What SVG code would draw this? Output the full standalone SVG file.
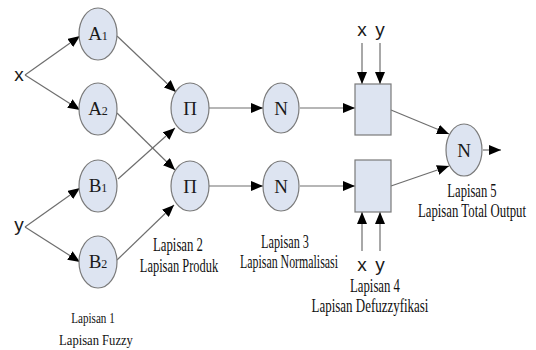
<svg xmlns="http://www.w3.org/2000/svg" width="536" height="350" viewBox="0 0 536 350">
  <style>
    .node { fill: #dde4f1; stroke: #7a7a7a; stroke-width: 1.2; }
    .edge { stroke: #6e6e6e; stroke-width: 1.2; fill: none; }
    .lbl { font-family: "Liberation Serif", "Times New Roman", serif; fill: #1a1a1a; text-anchor: middle; }
    .var { font-family: "Liberation Sans", Arial, sans-serif; font-size: 19px; fill: #1a1a1a; text-anchor: middle; }
    .cap { font-family: "Liberation Serif", "Times New Roman", serif; font-size: 18px; fill: #111; text-anchor: middle; }
    .cap1 { font-family: "Liberation Serif", "Times New Roman", serif; font-size: 15px; fill: #111; text-anchor: middle; }
  </style>
  <defs>
    <marker id="arrow" markerUnits="userSpaceOnUse" markerWidth="12" markerHeight="10" refX="12" refY="5" orient="auto">
      <path d="M0,0 L12,5 L0,10 z" fill="#000"/>
    </marker>
  </defs>
  <rect width="536" height="350" fill="#fff"/>

  <!-- connectors -->
  <g id="connectors" class="edge" marker-end="url(#arrow)">
    <line x1="25" y1="75" x2="80" y2="36"/>
    <line x1="25" y1="75" x2="80" y2="110"/>
    <line x1="25" y1="227" x2="80" y2="188"/>
    <line x1="25" y1="227" x2="80" y2="262"/>
    <line x1="117" y1="36" x2="176" y2="92"/>
    <line x1="117" y1="113" x2="175" y2="170"/>
    <line x1="118" y1="179" x2="175" y2="128"/>
    <line x1="117" y1="260" x2="174" y2="205"/>
    <line x1="209" y1="108" x2="263" y2="108"/>
    <line x1="209" y1="186" x2="263" y2="186"/>
    <line x1="300" y1="108" x2="355" y2="108"/>
    <line x1="300" y1="186" x2="355" y2="186"/>
    <line x1="362" y1="43" x2="362" y2="84"/>
    <line x1="380" y1="43" x2="380" y2="84"/>
    <line x1="362" y1="251" x2="362" y2="212"/>
    <line x1="380" y1="251" x2="380" y2="212"/>
    <line x1="391" y1="110" x2="449" y2="134"/>
    <line x1="391" y1="186" x2="449" y2="166"/>
    <line x1="483" y1="150" x2="501" y2="150"/>
  </g>

  <!-- inputs -->
  <text class="var" x="19" y="81">x</text>
  <text class="var" x="19" y="231">y</text>
  <text class="var" x="362" y="36">x</text>
  <text class="var" x="380" y="36">y</text>
  <text class="var" x="362" y="271">x</text>
  <text class="var" x="380" y="271">y</text>

  <!-- layer 1 -->
  <g id="A1"><ellipse class="node" cx="98" cy="34" rx="19" ry="26"/><text class="lbl" x="98" y="40"><tspan font-size="19">A</tspan><tspan font-size="12">1</tspan></text></g>
  <g id="A2"><ellipse class="node" cx="98" cy="109" rx="19" ry="26"/><text class="lbl" x="98" y="115"><tspan font-size="19">A</tspan><tspan font-size="12">2</tspan></text></g>
  <g id="B1"><ellipse class="node" cx="98" cy="186" rx="19" ry="26"/><text class="lbl" x="98" y="192"><tspan font-size="19">B</tspan><tspan font-size="12">1</tspan></text></g>
  <g id="B2"><ellipse class="node" cx="98" cy="262" rx="19" ry="26"/><text class="lbl" x="98" y="268"><tspan font-size="19">B</tspan><tspan font-size="12">2</tspan></text></g>

  <!-- layer 2 -->
  <g id="P1"><ellipse class="node" cx="190" cy="108" rx="19" ry="25"/><text class="lbl" x="190" y="114.5" font-size="19">Π</text></g>
  <g id="P2"><ellipse class="node" cx="190" cy="186" rx="19" ry="25"/><text class="lbl" x="190" y="192.5" font-size="19">Π</text></g>

  <!-- layer 3 -->
  <g id="N1"><ellipse class="node" cx="281" cy="108" rx="18" ry="25"/><text class="lbl" x="281" y="114.5" font-size="19">N</text></g>
  <g id="N2"><ellipse class="node" cx="281" cy="186" rx="18" ry="25"/><text class="lbl" x="281" y="192.5" font-size="19">N</text></g>

  <!-- layer 4 -->
  <g id="D1"><rect class="node" x="355" y="84" width="36" height="51"/></g>
  <g id="D2"><rect class="node" x="355" y="160" width="36" height="52"/></g>

  <!-- layer 5 -->
  <g id="OUT"><ellipse class="node" cx="464" cy="150" rx="18" ry="26"/><text class="lbl" x="464" y="156.5" font-size="19">N</text></g>

  <!-- layer captions (condensed horizontally) -->
  <text class="cap1" transform="translate(93 323) scale(0.74 1)">Lapisan 1</text>
  <text class="cap1" transform="translate(96 345) scale(0.84 1)">Lapisan Fuzzy</text>
  <text class="cap" transform="translate(178 251) scale(0.71 1)">Lapisan 2</text>
  <text class="cap" transform="translate(179 272) scale(0.69 1)">Lapisan Produk</text>
  <text class="cap" transform="translate(285 248) scale(0.68 1)">Lapisan 3</text>
  <text class="cap" transform="translate(289 268) scale(0.66 1)">Lapisan Normalisasi</text>
  <text class="cap" transform="translate(375 292) scale(0.71 1)">Lapisan 4</text>
  <text class="cap" transform="translate(370 312) scale(0.72 1)">Lapisan Defuzzyfikasi</text>
  <text class="cap" transform="translate(472 197) scale(0.70 1)">Lapisan 5</text>
  <text class="cap" transform="translate(472 217) scale(0.71 1)">Lapisan Total Output</text>
</svg>
